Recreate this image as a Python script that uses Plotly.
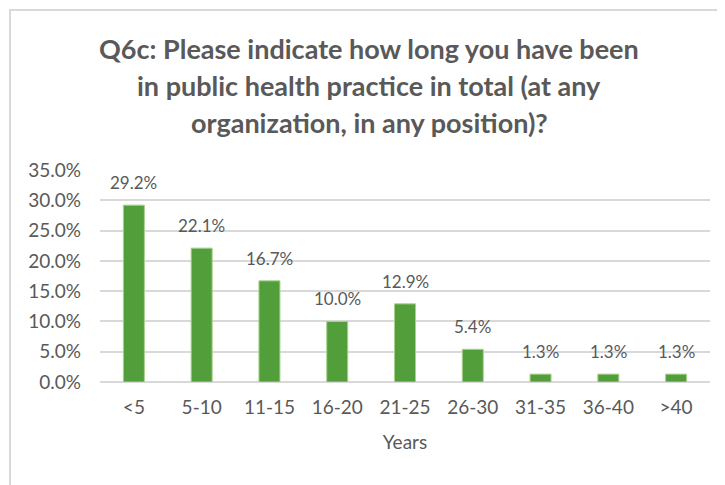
import plotly.graph_objects as go

years = ["<5", "5-10", "11-15", "16-20", "21-25", "26-30", "31-35", "36-40", ">40"]
share = [29.2, 22.1, 16.7, 10.0, 12.9, 5.4, 1.3, 1.3, 1.3]
y_ticks = [0, 5, 10, 15, 20, 25, 30, 35]
y_tick_text = [f"{v:.1f}%" for v in y_ticks]
title_lines = [
    "Q6c: Please indicate how long you have been",
    "in public health practice in total (at any",
    "organization, in any position)?",
]

font_main = "Lato, Open Sans, sans-serif"
grey = "#595959"

# page offset of the plot div (body margin)
OFF = 8
# plot area in page pixels: x 100..710, y 170..382
def py(pix):
    return (382 - pix) / 212.0

def px(pix):
    return (pix - 100) / 610.0

fig = go.Figure()
fig.add_trace(
    go.Bar(
        x=years,
        y=share,
        width=0.31,
        marker=dict(color="#529e3a", line=dict(color="#a9d18e", width=1)),
        hoverinfo="x+y",
    )
)

for cat, val in zip(years, share):
    fig.add_annotation(
        x=cat,
        y=val,
        text=f"{val:.1f}%",
        showarrow=False,
        yanchor="bottom",
        yshift=10,
        font=dict(size=17, color=grey, family=font_main),
    )

fig.update_layout(
    width=725,
    height=485,
    margin=dict(l=100 - OFF, r=725 - 710 + OFF, t=170 - OFF, b=485 - 382 + OFF, autoexpand=False),
    paper_bgcolor="white",
    plot_bgcolor="white",
    showlegend=False,
    font=dict(family=font_main, color=grey, size=19),
    bargap=0.69,
)

for i, line in enumerate(title_lines):
    fig.add_annotation(
        text=f"<b>{line}</b>",
        xref="paper",
        yref="paper",
        x=px(369),
        y=py(48 + 37 * i),
        xanchor="center",
        yanchor="middle",
        showarrow=False,
        font=dict(size=27, color=grey, family=font_main),
    )

fig.update_xaxes(
    title=dict(text="Years", font=dict(size=19, color=grey), standoff=18),
    tickfont=dict(size=19, color=grey),
    showline=False,
    ticks="",
    ticklabelstandoff=12,
    automargin=False,
)
fig.update_yaxes(
    range=[0, 35],
    tickvals=y_ticks,
    ticktext=y_tick_text,
    tickfont=dict(size=19, color=grey),
    showgrid=True,
    gridcolor="#d9d9d9",
    gridwidth=1.5,
    zeroline=True,
    zerolinecolor="#d9d9d9",
    zerolinewidth=1.5,
    ticks="",
    ticklabelstandoff=18,
    automargin=False,
)

# chart frame
fig.add_shape(
    type="rect",
    xref="paper",
    yref="paper",
    x0=px(10),
    x1=px(760),
    y0=py(520),
    y1=py(10),
    line=dict(color="#d9d9d9", width=2),
    fillcolor="rgba(0,0,0,0)",
    layer="below",
)

fig.write_html("out.html")
